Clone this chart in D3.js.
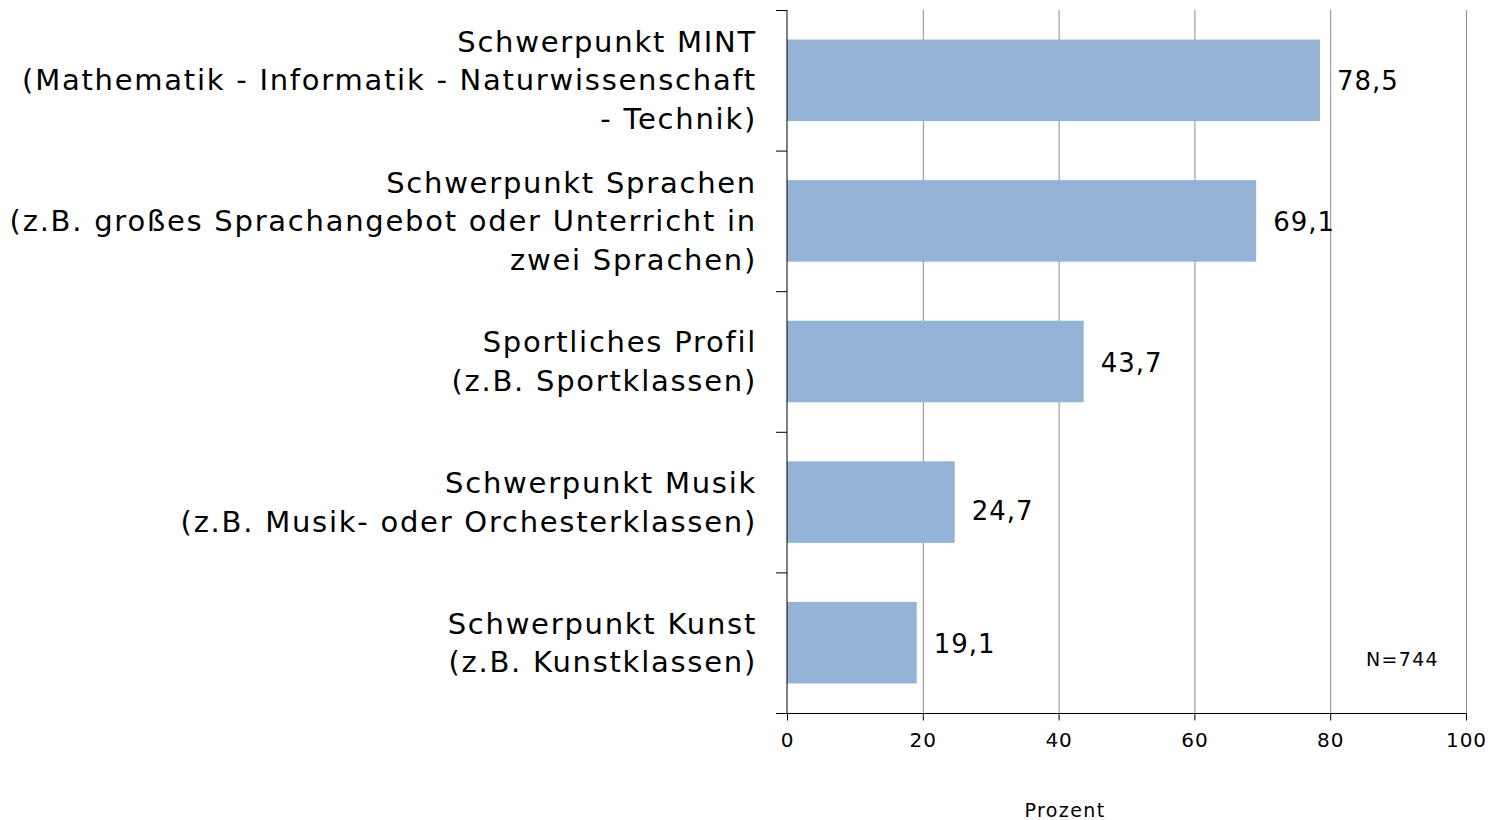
<!DOCTYPE html>
<html>
<head>
<meta charset="utf-8">
<script src="https://cdn.jsdelivr.net/npm/d3@7"></script>
<style>
  body { margin: 0; background: #fff; }
  svg { display: block; font-family: "DejaVu Sans", Verdana, sans-serif; }
</style>
</head>
<body>
<div id="chart"></div>
<script>
// Kategorien (je Zeile ein Eintrag)
const categories = [
  ["Schwerpunkt MINT", "(Mathematik - Informatik - Naturwissenschaft", "- Technik)"],
  ["Schwerpunkt Sprachen", "(z.B. großes Sprachangebot oder Unterricht in", "zwei Sprachen)"],
  ["Sportliches Profil", "(z.B. Sportklassen)"],
  ["Schwerpunkt Musik", "(z.B. Musik- oder Orchesterklassen)"],
  ["Schwerpunkt Kunst", "(z.B. Kunstklassen)"]
];
const values = [78.5, 69.1, 43.7, 24.7, 19.1];
const xTicks = [0, 20, 40, 60, 80, 100];
const xTitle = "Prozent";
const note = "N=744";

const width = 1491, height = 820;
const marginLeft = 787, marginRight = 25, marginTop = 10, marginBottom = 107;

const svg = d3.select('#chart').append('svg')
  .attr('width', width)
  .attr('height', height);

const x = d3.scaleLinear()
  .domain([0, 100])
  .range([marginLeft, width - marginRight]);

const y = d3.scaleBand()
  .domain(d3.range(categories.length))
  .range([marginTop, height - marginBottom])
  .paddingInner(0.42)
  .paddingOuter(0.21);

// Gitterlinien
svg.append('g')
  .selectAll('line')
  .data(xTicks.filter(d => d > 0))
  .join('line')
  .attr('x1', d => x(d) + 0.5)
  .attr('x2', d => x(d) + 0.5)
  .attr('y1', marginTop)
  .attr('y2', height - marginBottom)
  .attr('stroke', '#8c8c8c')
  .attr('stroke-width', 1);

// Balken
svg.append('g')
  .selectAll('rect')
  .data(values)
  .join('rect')
  .attr('x', x(0))
  .attr('y', (d, i) => y(i))
  .attr('width', d => x(d) - x(0))
  .attr('height', y.bandwidth())
  .attr('fill', '#95b3d7');

// Werte (Musik-Wert sitzt im Original etwas tiefer)
svg.append('g')
  .selectAll('text')
  .data(values)
  .join('text')
  .attr('x', d => x(d) + 17)
  .attr('y', (d, i) => y(i) + y.bandwidth() / 2 + (i === 3 ? 9 : 1))
  .attr('dy', '0.35em')
  .style('font-size', '26px')
  .style('letter-spacing', '1px')
  .attr('fill', '#000')
  .text(d => d3.format('.1f')(d).replace('.', ','));

// Y-Achse mit Teilstrichen zwischen den Kategorien
const step = (height - marginBottom - marginTop) / categories.length;
const yAxis = svg.append('g');
yAxis.append('line')
  .attr('x1', x(0)).attr('x2', x(0))
  .attr('y1', marginTop).attr('y2', height - marginBottom)
  .attr('stroke', '#000');
yAxis.selectAll('line.tick')
  .data(d3.range(categories.length))
  .join('line')
  .attr('class', 'tick')
  .attr('x1', x(0) - 11).attr('x2', x(0))
  .attr('y1', i => marginTop + i * step + 0.5)
  .attr('y2', i => marginTop + i * step + 0.5)
  .attr('stroke', '#000');

// Kategorie-Beschriftungen
const labelG = svg.append('g');
categories.forEach((lines, i) => {
  const cy = y(i) + y.bandwidth() / 2;
  const lh = 38.5;
  const t = labelG.append('text')
    .attr('text-anchor', 'end')
    .style('font-size', '29px')
    .style('letter-spacing', '1.75px')
    .attr('fill', '#000');
  lines.forEach((s, j) => {
    t.append('tspan')
      .attr('x', x(0) - 30)
      .attr('y', cy + (j - (lines.length - 1) / 2) * lh)
      .attr('dy', '0.35em')
      .text(s);
  });
});

// X-Achse
const xAxis = svg.append('g')
  .attr('transform', `translate(0,${height - marginBottom + 0.5})`)
  .call(d3.axisBottom(x).tickValues(xTicks).tickSize(7).tickSizeOuter(0).tickPadding(12));
xAxis.select('.domain').attr('stroke', '#000').attr('d', `M${x(0) - 11},0H${x(100) + 0.5}`);
xAxis.selectAll('.tick line').attr('stroke', '#000');
xAxis.selectAll('.tick text')
  .style('font-size', '20px')
  .style('letter-spacing', '1px')
  .style('font-family', '"DejaVu Sans", Verdana, sans-serif')
  .attr('fill', '#000');

// Achsentitel
svg.append('text')
  .attr('x', 1065)
  .attr('y', 810)
  .attr('dy', '0.35em')
  .attr('text-anchor', 'middle')
  .style('font-size', '19px')
  .style('letter-spacing', '1.4px')
  .attr('fill', '#000')
  .text(xTitle);

// Fallzahl
svg.append('text')
  .attr('x', x(100) - 27)
  .attr('y', 659)
  .attr('dy', '0.35em')
  .attr('text-anchor', 'end')
  .style('font-size', '19px')
  .style('letter-spacing', '1.3px')
  .attr('fill', '#000')
  .text(note);
</script>
</body>
</html>
